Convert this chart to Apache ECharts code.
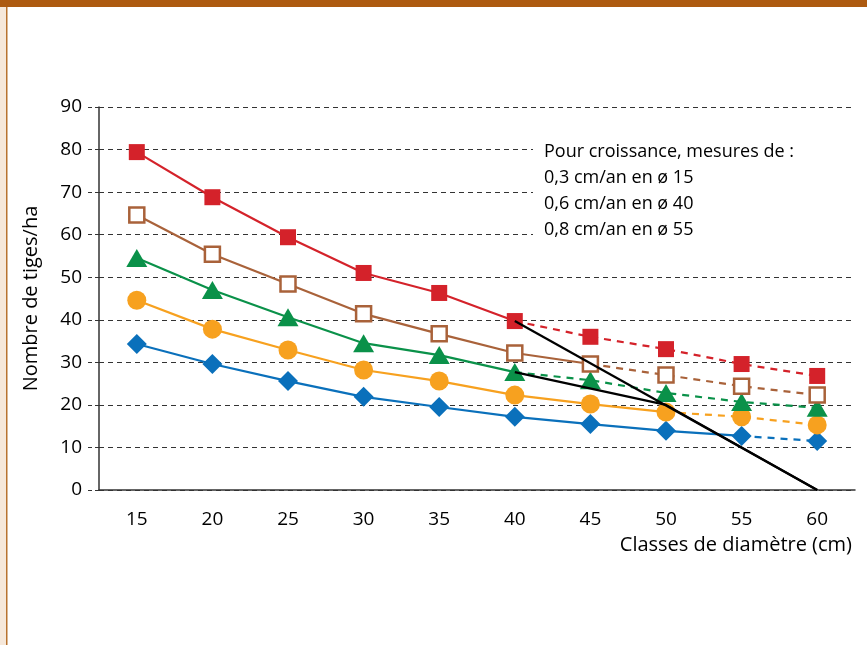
<!DOCTYPE html>
<html><head><meta charset="utf-8">
<script src="https://cdn.jsdelivr.net/npm/echarts@6/dist/echarts.min.js"></script>
<style>html,body{margin:0;padding:0;background:#fff}#c{width:867px;height:645px}</style>
</head><body><div id="c"></div>
<script>
const categories = ['15','20','25','30','35','40','45','50','55','60'];
const yTicks = [0,10,20,30,40,50,60,70,80,90];
const redVals    = [79.4, 68.8, 59.4, 51.0, 46.3, 39.7, 36.0, 33.1, 29.6, 26.8];
const brownVals  = [64.6, 55.4, 48.4, 41.4, 36.7, 32.2, 29.6, 27.0, 24.4, 22.3];
const greenVals  = [54.5, 47.0, 40.6, 34.5, 31.7, 27.7, 25.8, 22.8, 20.7, 19.3];
const orangeVals = [44.6, 37.8, 32.9, 28.2, 25.6, 22.3, 20.2, 18.3, 17.2, 15.3];
const blueVals   = [34.3, 29.6, 25.6, 21.9, 19.5, 17.2, 15.5, 13.9, 12.7, 11.5];
// index where the measured (solid) part ends and the projected (dashed) part starts
const breakRed = 5, breakBrown = 6, breakGreen = 5, breakOrange = 7, breakBlue = 8;
// black construction lines: [categoryIndex, value]
const blackLineA = [[5, 39.7], [9, 0]];
const blackLineB = [[5, 27.7], [7, 20.0], [9, 0]];
const noteLines = ['Pour croissance, mesures de :', '0,3 cm/an en \u00f8 15', '0,6 cm/an en \u00f8 40', '0,8 cm/an en \u00f8 55'];

const FONT = '"Open Sans"';
const chart = echarts.init(document.getElementById('c'));

function build(vals, brk, color, symbol, size, itemStyle, z) {
  const solid = vals.map((v,i) => i <= brk ? v : null);
  const dashed = vals.map((v,i) => i >= brk ? v : null);
  return [
    {type:'line', data: solid, symbol:'none', lineStyle:{color, width:2.2}, z: z, silent:true},
    {type:'line', data: dashed, symbol:'none', lineStyle:{color, width:2.2, type:[7,6]}, z: z, silent:true},
    {type:'scatter', data: vals, symbol, symbolSize: size, itemStyle: Object.assign({opacity:1}, itemStyle), z: z+10, silent:true}
  ];
}

const series = [].concat(
  build(blueVals, breakBlue, '#0a70bb', 'diamond', [20,20], {color:'#0a70bb'}, 2),
  build(orangeVals, breakOrange, '#f7a11f', 'circle', 19, {color:'#f7a11f'}, 3),
  build(greenVals, breakGreen, '#0a9149', 'triangle', [21,18], {color:'#0a9149'}, 4),
  build(brownVals, breakBrown, '#a9623a', 'rect', 15, {color:'#fff', borderColor:'#a9623a', borderWidth:2.5}, 5),
  build(redVals, breakRed, '#d4222a', 'rect', 16, {color:'#d4222a'}, 6),
  [
    {type:'line', data: blackLineA, symbol:'none', lineStyle:{color:'#000', width:2.2}, z:30, silent:true},
    {type:'line', data: blackLineB, symbol:'none', lineStyle:{color:'#000', width:2.2}, z:30, silent:true}
  ]
);

chart.setOption({
  animation:false,
  backgroundColor:'#fff',
  grid:{left:99, right:12, top:107, bottom:155},
  xAxis:{
    type:'category', data: categories, boundaryGap:true,
    axisLine:{lineStyle:{color:'#333', width:1.5}},
    axisTick:{length:10, alignWithLabel:false, lineStyle:{color:'#333', width:1.5}},
    axisLabel:{color:'#000', fontFamily:FONT, fontSize:19, margin:20}
  },
  yAxis:{
    type:'value', min:yTicks[0], max:yTicks[yTicks.length-1], interval:10,
    name:'Nombre de tiges/ha', nameLocation:'middle', nameRotate:90, nameGap:58,
    nameTextStyle:{color:'#000', fontFamily:FONT, fontSize:20},
    axisLine:{show:true, lineStyle:{color:'#333', width:1.5}},
    axisTick:{show:true, length:11, lineStyle:{color:'#333', width:1, type:[4,3]}},
    axisLabel:{color:'#000', fontFamily:FONT, fontSize:19, margin:17},
    splitLine:{show:true, lineStyle:{color:'#333', width:1, type:[5,4]}}
  },
  graphic:[
    {type:'rect', left:0, top:0, shape:{width:6, height:645}, style:{fill:'#f6e8da'}, silent:true},
    {type:'rect', left:6, top:0, shape:{width:1.5, height:645}, style:{fill:'#b8732f'}, silent:true},
    {type:'rect', left:0, top:0, shape:{width:867, height:7}, style:{fill:'#ad5a10'}, silent:true},
    {type:'text', right:15, top:535, style:{text:'Classes de diamètre (cm)', fill:'#000', font:'20px '+FONT}},
    {type:'rect', left:533, top:138, z:50, shape:{width:322, height:104}, style:{fill:'#fff'}, silent:true},
    {type:'text', left:544, top:139, z:51, style:{text:noteLines.join('\n'), fill:'#000', font:'18px '+FONT, lineHeight:26}}
  ],
  series
});
</script></body></html>
